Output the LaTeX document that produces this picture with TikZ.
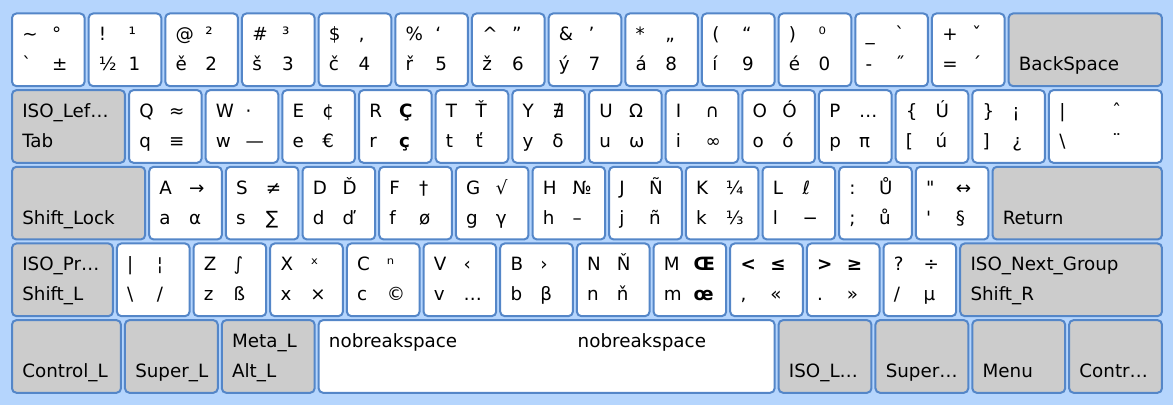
\documentclass[tikz,border=0pt]{standalone}
\usepackage{fontspec}
\setmainfont{DejaVu Sans}[Ligatures=TeXOff]
\definecolor{kbbg}{RGB}{181,213,253}
\definecolor{kbline}{RGB}{84,134,200}
\definecolor{kbgray}{RGB}{204,204,204}
\tikzset{
  keycap/.style={draw=kbline, line width=1pt, rounded corners=2.2pt, fill=white,
    anchor=north west, inner sep=0pt, outer sep=0pt},
  fnkey/.style={keycap, fill=kbgray},
  chkey/.style={keycap},
  lab/.style={font=\fontsize{9.15}{11}\selectfont, inner sep=0pt, outer sep=0pt, anchor=base west},
}
% #1 name, #2 x (mm), #3 row, #4 width (mm), #5 style, #6 tl, #7 tr, #8 bl, #9 br
\newcommand\GKey[9]{%
  \node[#5, minimum width={#4*2.0175pt}, minimum height={18*2.0175pt}] (#1) at (#2,{#3*19}) {};
  \ifx\relax#6\relax\else\node[lab] (#1-tl) at ([xshift=5.145pt,yshift=-13.65pt]#1.north west) {#6};\fi
  \ifx\relax#7\relax\else\node[lab] (#1-tr) at ([xshift={5.145pt+(#4*2.0175pt-10.29pt)*4/7},yshift=-13.65pt]#1.north west) {#7};\fi
  \ifx\relax#8\relax\else\node[lab] (#1-bl) at ([xshift=5.145pt,yshift=-28.65pt]#1.north west) {#8};\fi
  \ifx\relax#9\relax\else\node[lab] (#1-br) at ([xshift={5.145pt+(#4*2.0175pt-10.29pt)*4/7},yshift=-28.65pt]#1.north west) {#9};\fi
}
\begin{document}
\begin{tikzpicture}[x=2.0175pt,y=-2.0175pt]
\useasboundingbox (-2.974,-3.346) rectangle (287.74,97.03);
\fill[kbbg] (-2.974,-3.346) rectangle (287.74,97.03);
% row 0
\GKey{kTLDE}{0}{0}{18}{chkey}{\textasciitilde}{°}{\symbol{"60}}{±}
\GKey{kAE01}{19}{0}{18}{chkey}{!}{¹}{½}{1}
\GKey{kAE02}{38}{0}{18}{chkey}{@}{²}{ě}{2}
\GKey{kAE03}{57}{0}{18}{chkey}{\#}{³}{š}{3}
\GKey{kAE04}{76}{0}{18}{chkey}{\$}{‚}{č}{4}
\GKey{kAE05}{95}{0}{18}{chkey}{\%}{‘}{ř}{5}
\GKey{kAE06}{114}{0}{18}{chkey}{\textasciicircum}{”}{ž}{6}
\GKey{kAE07}{133}{0}{18}{chkey}{\&}{’}{ý}{7}
\GKey{kAE08}{152}{0}{18}{chkey}{*}{„}{á}{8}
\GKey{kAE09}{171}{0}{18}{chkey}{(}{“}{í}{9}
\GKey{kAE10}{190}{0}{18}{chkey}{)}{⁰}{é}{0}
\GKey{kAE11}{209}{0}{18}{chkey}{\_}{ˋ}{-}{˝}
\GKey{kAE12}{228}{0}{18}{chkey}{+}{ˇ}{=}{´}
\GKey{kBKSP}{247}{0}{38}{fnkey}{}{}{BackSpace}{}
% row 1
\GKey{kTAB}{0}{1}{28}{fnkey}{ISO\_Lef…}{}{Tab}{}
\GKey{kAD01}{29}{1}{18}{chkey}{Q}{≈}{q}{≡}
\GKey{kAD02}{48}{1}{18}{chkey}{W}{·}{w}{—}
\GKey{kAD03}{67}{1}{18}{chkey}{E}{¢}{e}{€}
\GKey{kAD04}{86}{1}{18}{chkey}{R}{\bfseries Ç}{r}{\bfseries ç}
\GKey{kAD05}{105}{1}{18}{chkey}{T}{Ť}{t}{ť}
\GKey{kAD06}{124}{1}{18}{chkey}{Y}{∄}{y}{δ}
\GKey{kAD07}{143}{1}{18}{chkey}{U}{Ω}{u}{ω}
\GKey{kAD08}{162}{1}{18}{chkey}{I}{∩}{i}{∞}
\GKey{kAD09}{181}{1}{18}{chkey}{O}{Ó}{o}{ó}
\GKey{kAD10}{200}{1}{18}{chkey}{P}{…}{p}{π}
\GKey{kAD11}{219}{1}{18}{chkey}{\{}{Ú}{[}{ú}
\GKey{kAD12}{238}{1}{18}{chkey}{\}}{¡}{]}{¿}
\GKey{kBKSL}{257}{1}{28}{chkey}{|}{ˆ}{\textbackslash}{¨}
% row 2
\GKey{kCAPS}{0}{2}{33}{fnkey}{}{}{Shift\_Lock}{}
\GKey{kAC01}{34}{2}{18}{chkey}{A}{→}{a}{α}
\GKey{kAC02}{53}{2}{18}{chkey}{S}{≠}{s}{∑}
\GKey{kAC03}{72}{2}{18}{chkey}{D}{Ď}{d}{ď}
\GKey{kAC04}{91}{2}{18}{chkey}{F}{†}{f}{ø}
\GKey{kAC05}{110}{2}{18}{chkey}{G}{√}{g}{γ}
\GKey{kAC06}{129}{2}{18}{chkey}{H}{№}{h}{–}
\GKey{kAC07}{148}{2}{18}{chkey}{J}{Ñ}{j}{ñ}
\GKey{kAC08}{167}{2}{18}{chkey}{K}{¼}{k}{⅓}
\GKey{kAC09}{186}{2}{18}{chkey}{L}{ℓ}{l}{−}
\GKey{kAC10}{205}{2}{18}{chkey}{:}{Ů}{;}{ů}
\GKey{kAC11}{224}{2}{18}{chkey}{\symbol{"22}}{↔}{\symbol{"27}}{§}
\GKey{kRTRN}{243}{2}{42}{fnkey}{}{}{Return}{}
% row 3
\GKey{kLFSH}{0}{3}{25}{fnkey}{ISO\_Pr…}{}{Shift\_L}{}
\GKey{kLSGT}{26}{3}{18}{chkey}{|}{¦}{\textbackslash}{/}
\GKey{kAB01}{45}{3}{18}{chkey}{Z}{∫}{z}{ß}
\GKey{kAB02}{64}{3}{18}{chkey}{X}{ˣ}{x}{×}
\GKey{kAB03}{83}{3}{18}{chkey}{C}{ⁿ}{c}{©}
\GKey{kAB04}{102}{3}{18}{chkey}{V}{‹}{v}{…}
\GKey{kAB05}{121}{3}{18}{chkey}{B}{›}{b}{β}
\GKey{kAB06}{140}{3}{18}{chkey}{N}{Ň}{n}{ň}
\GKey{kAB07}{159}{3}{18}{chkey}{M}{\bfseries Œ}{m}{\bfseries œ}
\GKey{kAB08}{178}{3}{18}{chkey}{\bfseries <}{\bfseries ≤}{,}{«}
\GKey{kAB09}{197}{3}{18}{chkey}{\bfseries >}{\bfseries ≥}{.}{»}
\GKey{kAB10}{216}{3}{18}{chkey}{?}{÷}{/}{µ}
\GKey{kRTSH}{235}{3}{50}{fnkey}{ISO\_Next\_Group}{}{Shift\_R}{}
% row 4
\GKey{kLCTL}{0}{4}{27}{fnkey}{}{}{Control\_L}{}
\GKey{kLWIN}{28}{4}{23}{fnkey}{}{}{Super\_L}{}
\GKey{kLALT}{52}{4}{23}{fnkey}{Meta\_L}{}{Alt\_L}{}
\GKey{kSPCE}{76}{4}{113}{chkey}{nobreakspace}{nobreakspace}{}{}
\GKey{kRALT}{190}{4}{23}{fnkey}{}{}{ISO\_L…}{}
\GKey{kRWIN}{214}{4}{23}{fnkey}{}{}{Super…}{}
\GKey{kMENU}{238}{4}{23}{fnkey}{}{}{Menu}{}
\GKey{kRCTL}{262}{4}{23}{fnkey}{}{}{Contr…}{}
\end{tikzpicture}
\end{document}
